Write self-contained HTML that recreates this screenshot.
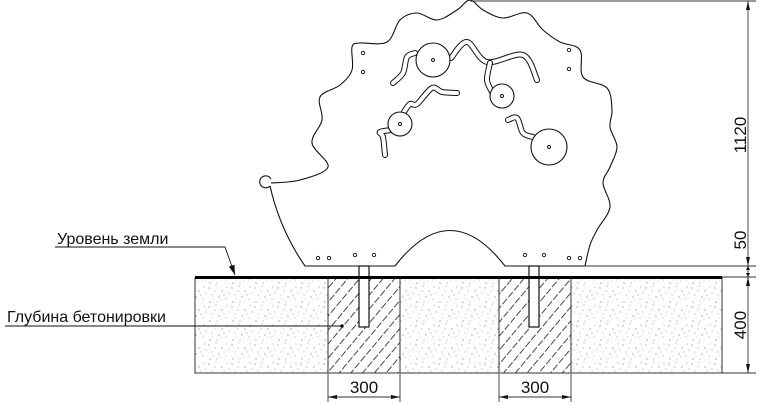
<!DOCTYPE html>
<html><head><meta charset="utf-8"><style>
html,body{margin:0;padding:0;background:#fff;}
svg{display:block;}
text{font-family:"Liberation Sans",Arial,sans-serif;fill:#111;}
</style></head><body>
<svg width="759" height="406" viewBox="0 0 759 406" xmlns="http://www.w3.org/2000/svg">
<defs>
<pattern id="sp" width="23" height="19" patternUnits="userSpaceOnUse">
<g fill="#777">
<circle cx="2" cy="3" r="0.6"/><circle cx="9" cy="1" r="0.5"/><circle cx="15" cy="6" r="0.6"/><circle cx="20" cy="2" r="0.5"/>
<circle cx="5" cy="10" r="0.5"/><circle cx="12" cy="12" r="0.6"/><circle cx="19" cy="14" r="0.5"/><circle cx="3" cy="17" r="0.6"/>
<circle cx="8" cy="6" r="0.5"/><circle cx="17" cy="10" r="0.5"/><circle cx="10" cy="17" r="0.5"/><circle cx="22" cy="8" r="0.5"/>
<circle cx="14" cy="15" r="0.4"/><circle cx="6" cy="14" r="0.4"/>
</g></pattern>
<pattern id="ht" width="9" height="9" patternUnits="userSpaceOnUse" patternTransform="rotate(-50)">
<line x1="0" y1="4.5" x2="7" y2="4.5" stroke="#333" stroke-width="0.9"/>
</pattern>
<marker id="ar" markerWidth="10" markerHeight="6" refX="10" refY="3" orient="auto" markerUnits="userSpaceOnUse"><path d="M0,0 L10,3 L0,6 z" fill="#111"/></marker>
</defs>

<rect x="195" y="278" width="527" height="95" fill="url(#sp)" stroke="#333" stroke-width="1"/>
<rect x="328" y="278" width="72" height="95" fill="#fff" stroke="#333"/>
<rect x="328" y="278" width="72" height="95" fill="url(#ht)" stroke="#333"/>
<rect x="499" y="278" width="72" height="95" fill="#fff" stroke="#333"/>
<rect x="499" y="278" width="72" height="95" fill="url(#ht)" stroke="#333"/>
<rect x="359" y="266" width="10" height="61" fill="#fff" stroke="#111" stroke-width="1.2"/>
<rect x="529" y="266" width="10" height="61" fill="#fff" stroke="#111" stroke-width="1.2"/>
<line x1="195" y1="277.5" x2="722" y2="277.5" stroke="#000" stroke-width="3"/>

<path id="nose" d="M271,179 A6,6 0 1 0 270,186" fill="none" stroke="#111" stroke-width="1.1"/>
<path id="hh" fill="none" stroke="#111" stroke-width="1.1"/>
<g id="tubes"></g>
<g fill="#fff" stroke="#111" stroke-width="1.1">
<circle cx="433" cy="60" r="17"/><circle cx="502" cy="96" r="12"/><circle cx="400" cy="124" r="12"/><circle cx="549" cy="147" r="18"/>
</g>
<g fill="none" stroke="#111" stroke-width="0.9">
<circle cx="433" cy="60" r="1.5"/><circle cx="502" cy="96" r="1.5"/><circle cx="400" cy="124" r="1.5"/><circle cx="549" cy="147" r="1.5"/>
<circle cx="363" cy="53" r="1.7"/><circle cx="363" cy="72" r="1.7"/><circle cx="569" cy="50" r="1.7"/><circle cx="569" cy="69" r="1.7"/>
<circle cx="318" cy="258" r="1.7"/><circle cx="329" cy="258" r="1.7"/><circle cx="355" cy="255" r="1.7"/><circle cx="374" cy="255" r="1.7"/>
<circle cx="525" cy="255" r="1.7"/><circle cx="544" cy="255" r="1.7"/><circle cx="569" cy="258" r="1.7"/><circle cx="580" cy="258" r="1.7"/>
</g>

<g stroke="#333" stroke-width="0.9" fill="none">
<line x1="470" y1="1" x2="756" y2="1"/>
<line x1="585" y1="266" x2="756" y2="266"/>
<line x1="722" y1="277" x2="756" y2="277"/>
<line x1="722" y1="373" x2="756" y2="373"/>
<line x1="748" y1="1" x2="748" y2="373"/>
<line x1="328" y1="374" x2="328" y2="402"/><line x1="400" y1="374" x2="400" y2="402"/>
<line x1="499" y1="374" x2="499" y2="402"/><line x1="571" y1="374" x2="571" y2="402"/>
<line x1="328" y1="397" x2="400" y2="397"/><line x1="499" y1="397" x2="571" y2="397"/>
</g>
<g fill="#111">
<path d="M748,1 l-2,9 h4z"/><path d="M748,266 l-2,-9 h4z"/><path d="M748,266 l-2,4 h4z"/><path d="M748,277 l-2,-4 h4z"/>
<path d="M748,277 l-2,9 h4z"/><path d="M748,373 l-2,-9 h4z"/>
<path d="M328,397 l9,-2 v4z"/><path d="M400,397 l-9,-2 v4z"/><path d="M499,397 l9,-2 v4z"/><path d="M571,397 l-9,-2 v4z"/>
</g>
<text x="0" y="0" font-size="17" transform="translate(746,135) rotate(-90)" text-anchor="middle">1120</text>
<text x="0" y="0" font-size="17" transform="translate(746,240) rotate(-90)" text-anchor="middle">50</text>
<text x="0" y="0" font-size="17" transform="translate(746,325) rotate(-90)" text-anchor="middle">400</text>
<text x="364" y="393" font-size="17" text-anchor="middle">300</text>
<text x="535" y="393" font-size="17" text-anchor="middle">300</text>

<text x="57" y="244" font-size="16">Уровень земли</text>
<polyline points="55,247 225,247 235,275" fill="none" stroke="#111" stroke-width="0.9" marker-end="url(#ar)"/>
<text x="7" y="322" font-size="16">Глубина бетонировки</text>
<line x1="5" y1="326" x2="342" y2="326" stroke="#111" stroke-width="0.9"/>
<circle cx="342" cy="326" r="1.8" fill="#111"/>
</svg>
<script>
function cr(p){var d="M"+p[0][0]+","+p[0][1];for(var i=0;i<p.length-1;i++){var p0=p[i>0?i-1:0],p1=p[i],p2=p[i+1],p3=p[i+2<p.length?i+2:i+1];
var c1=[p1[0]+(p2[0]-p0[0])/6,p1[1]+(p2[1]-p0[1])/6],c2=[p2[0]-(p3[0]-p1[0])/6,p2[1]-(p3[1]-p1[1])/6];
d+=" C"+c1[0].toFixed(1)+","+c1[1].toFixed(1)+" "+c2[0].toFixed(1)+","+c2[1].toFixed(1)+" "+p2[0]+","+p2[1];}return d;}
var out=[[271,183],[300,180],[328,167],[312,143],[322,120],[320,97],[340,85],[352,70],[352,47],[360,43],[387,42],[400,20],[417,13],[437,20],[457,10],[470,0],[483,10],[503,18],[527,13],[543,30],[560,42],[580,50],[583,77],[607,88],[612,110],[610,127],[617,147],[610,167],[603,183],[610,207],[597,230],[590,245],[585,266]];
var d=cr(out)+" L505,266 Q450,195 395,266 L305,266 Q280,230 270,186";
document.getElementById("hh").setAttribute("d",d);
var tubes=[[[393,83],[403,73],[407,57],[415,53]],[[451,58],[467,42],[487,62],[523,55],[537,80]],[[490,63],[487,80],[492,92]],[[404,112],[410,104],[417,104],[432,88],[442,92],[457,93]],[[385,155],[383,137],[380,132],[392,130]],[[508,120],[517,118],[523,133],[533,137]]];
var g=document.getElementById("tubes"),h="";
tubes.forEach(function(t){var dd=cr(t);h+='<path d="'+dd+'" fill="none" stroke="#111" stroke-width="6" stroke-linecap="round" stroke-linejoin="round"/><path d="'+dd+'" fill="none" stroke="#fff" stroke-width="4" stroke-linecap="round" stroke-linejoin="round"/>';});
g.innerHTML=h;
</script>
</body></html>
